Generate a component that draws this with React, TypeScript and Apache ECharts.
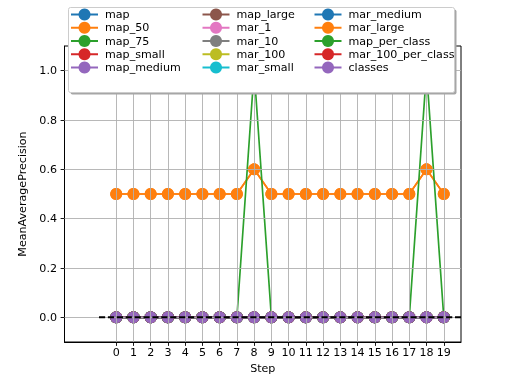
import React, { useEffect, useRef } from "react";
import * as echarts from "echarts";

const steps = [0, 1, 2, 3, 4, 5, 6, 7, 8, 9, 10, 11, 12, 13, 14, 15, 16, 17, 18, 19];
const yTicks = [0, 0.2, 0.4, 0.6, 0.8, 1.0];
const zeros = [0, 0, 0, 0, 0, 0, 0, 0, 0, 0, 0, 0, 0, 0, 0, 0, 0, 0, 0, 0];
const map50 = [0.5, 0.5, 0.5, 0.5, 0.5, 0.5, 0.5, 0.5, 0.6, 0.5, 0.5, 0.5, 0.5, 0.5, 0.5, 0.5, 0.5, 0.5, 0.6, 0.5];
const marLarge = [0.5, 0.5, 0.5, 0.5, 0.5, 0.5, 0.5, 0.5, 0.6, 0.5, 0.5, 0.5, 0.5, 0.5, 0.5, 0.5, 0.5, 0.5, 0.6, 0.5];
const mapPerClass = [0, 0, 0, 0, 0, 0, 0, 0, 1.0, 0, 0, 0, 0, 0, 0, 0, 0, 0, 1.0, 0];
const hlineX = [-1, 20];
const hlineY = [0, 0];

const seriesNames = [
  "map", "map_50", "map_75", "map_small", "map_medium",
  "map_large", "mar_1", "mar_10", "mar_100", "mar_small",
  "mar_medium", "mar_large", "map_per_class", "mar_100_per_class", "classes",
];
const seriesValues = [
  zeros, map50, zeros, zeros, zeros,
  zeros, zeros, zeros, zeros, zeros,
  zeros, marLarge, mapPerClass, zeros, zeros,
];
const colors = [
  "#1f77b4", "#ff7f0e", "#2ca02c", "#d62728", "#9467bd",
  "#8c564b", "#e377c2", "#7f7f7f", "#bcbd22", "#17becf",
  "#1f77b4", "#ff7f0e", "#2ca02c", "#d62728", "#9467bd",
];

const FONT = "DejaVu Sans";

export default function App() {
  const ref = useRef<HTMLDivElement>(null);
  useEffect(() => {
    if (!ref.current) return;
    const chart = echarts.init(ref.current, undefined, { renderer: "svg" });
    const lineSeries = seriesNames.map((name, i) => ({
      name,
      type: "line",
      data: steps.map((s, j) => [s, seriesValues[i][j]]),
      symbol: "circle",
      symbolSize: 12,
      showSymbol: true,
      itemStyle: { color: colors[i], borderWidth: 0 },
      lineStyle: { color: colors[i], width: 1.67 },
      emphasis: { disabled: true },
      z: 2,
    }));
    const legendCols = [seriesNames.slice(0, 5), seriesNames.slice(5, 10), seriesNames.slice(10, 15)];
    const legendLefts = [70, 201.5, 313.5];
    const legends = legendCols.map((col, i) => ({
      data: col,
      orient: "vertical",
      left: legendLefts[i],
      top: 8.5,
      padding: 0,
      itemWidth: 27,
      itemHeight: 15,
      itemGap: 1.25,
      selectedMode: false,
      z: 20,
      textStyle: { fontFamily: FONT, fontSize: 11.1, color: "#000", padding: [0, 0, 0, 2] },
    }));
    chart.setOption({
      animation: false,
      textStyle: { fontFamily: FONT },
      grid: {
        left: 64.5,
        right: 51,
        top: 46,
        bottom: 42,
        show: true,
        borderColor: "#000",
        borderWidth: 1,
        backgroundColor: "transparent",
      },
      legend: legends,
      graphic: [
        {
          type: "rect",
          z: 10,
          shape: { x: 70.5, y: 9.5, width: 386, height: 85, r: 2 },
          style: { fill: "#a6a6a6", stroke: "none" },
        },
        {
          type: "rect",
          z: 11,
          shape: { x: 68.5, y: 7.5, width: 386, height: 85, r: 2 },
          style: { fill: "#ffffff", stroke: "#cccccc", lineWidth: 1 },
        },
      ],
      xAxis: {
        type: "value",
        min: -3,
        max: 20,
        interval: 1,
        name: "Step",
        nameLocation: "middle",
        nameGap: 20,
        nameTextStyle: { fontFamily: FONT, fontSize: 11.1, color: "#000" },
        axisLine: { show: true, onZero: false, lineStyle: { color: "#000", width: 1 } },
        axisTick: { show: true, length: 3.9, customValues: steps, lineStyle: { color: "#000", width: 0.9 } },
        axisLabel: {
          customValues: steps,
          margin: 5,
          fontFamily: FONT,
          fontSize: 11.1,
          color: "#000",
        },
        splitLine: { show: false },
      },
      yAxis: {
        type: "value",
        min: -0.1,
        max: 1.1,
        name: "MeanAveragePrecision",
        nameLocation: "middle",
        nameGap: 26,
        nameTextStyle: { fontFamily: FONT, fontSize: 11.1, color: "#000" },
        axisLine: { show: true, onZero: false, lineStyle: { color: "#000", width: 1 } },
        axisTick: { show: true, length: 3.9, customValues: yTicks, lineStyle: { color: "#000", width: 0.9 } },
        axisLabel: {
          customValues: yTicks,
          margin: 7.5,
          fontFamily: FONT,
          fontSize: 11.1,
          color: "#000",
          formatter: (v: number) => v.toFixed(1),
        },
        splitLine: { show: false },
      },
      series: [
        {
          name: "__grid",
          type: "line",
          data: [],
          z: 1,
          silent: true,
          markLine: {
            silent: true,
            symbol: ["none", "none"],
            label: { show: false },
            emphasis: { disabled: true },
            lineStyle: { color: "#b0b0b0", width: 0.9, type: "solid" },
            data: [
              ...steps.map((s) => ({ xAxis: s })),
              ...yTicks.map((v) => ({ yAxis: v })),
            ],
          },
        },
        ...lineSeries,
        {
          name: "__hline",
          type: "line",
          data: hlineX.map((x, i) => [x, hlineY[i]]),
          symbol: "none",
          showSymbol: false,
          lineStyle: { color: "#000000", width: 2, type: [6.2, 2.7], opacity: 1 },
          emphasis: { disabled: true },
          z: 8,
        },
      ],
    });
    return () => chart.dispose();
  }, []);
  return (
    <div
      ref={ref}
      style={{ position: "fixed", left: 0, top: 0, width: 512, height: 384 }}
    />
  );
}
